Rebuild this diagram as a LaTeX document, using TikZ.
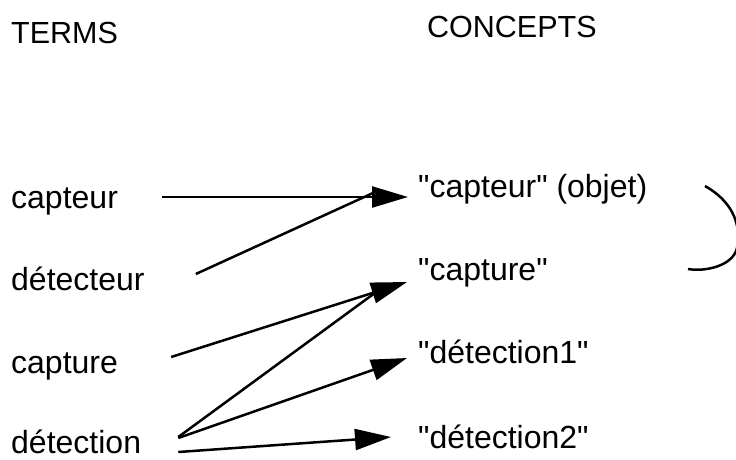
\documentclass[tikz,border=0pt]{standalone}
\usepackage{fontspec}
\setmainfont{Liberation Sans}
\usetikzlibrary{arrows.meta, positioning}
\tikzstyle{word} = [anchor=base west, inner sep=0pt, font=\fontsize{32}{38}\selectfont]
\tikzstyle{head} = [word, font=\fontsize{30.5}{36}\selectfont]
\tikzstyle{line} = [draw, line width=2.5pt]
\tikzstyle{arrow} = [line, -{Triangle[length=36pt, width=21pt]}]
\newcommand{\q}{\textquotedbl}

\begin{document}
\begin{tikzpicture}[x=1pt, y=-1pt]
				\useasboundingbox (0,0) rectangle (736,459);

				\node [head] (terms) at (11, 43) {TERMS};
				\node [head] (concepts) at (427, 37) {CONCEPTS};

				\node [word] (capteur) at (11, 208) {capteur};
				\node [word] (detecteur) at (11, 290) {détecteur};
				\node [word] (capture) at (11, 373) {capture};
				\node [word] (detection) at (11, 453) {détection};

				\node [word] (c-capteur) at (418, 197) {\q capteur\q{} (objet)};
				\node [word] (c-capture) at (418, 280) {\q capture\q};
				\node [word] (c-detection1) at (418, 363) {\q détection1\q};
				\node [word] (c-detection2) at (418, 448) {\q détection2\q};

				\path [arrow] ([xshift=44pt, yshift=11pt]capteur.base east) -- ([xshift=-10pt]c-capteur.base west);
				\path [line] ([xshift=51pt, yshift=16pt]detecteur.base east) -- ([xshift=-45pt, yshift=4pt]c-capteur.base west);
				\path [arrow] ([xshift=53pt, yshift=16pt]capture.base east) -- ([xshift=-11pt, yshift=-2pt]c-capture.base west);
				\path [line] ([xshift=37pt, yshift=16pt]detection.base east) -- ([xshift=-35pt, yshift=-7pt]c-capture.base west);
				\path [arrow] ([xshift=37pt, yshift=15pt]detection.base east) -- ([xshift=-11pt, yshift=5pt]c-detection1.base west);
				\path [arrow] ([xshift=37pt, yshift=1pt]detection.base east) -- ([xshift=-27pt, yshift=11pt]c-detection2.base west);

				% bracket on the right
				\begin{scope}
					\clip (0,0) rectangle (736,459);
					\path [line] (705,186) .. controls (730,200) and (742,222) .. (737,248)
						.. controls (733,266) and (705,272) .. (688,269);
				\end{scope}
			\end{tikzpicture}
\end{document}
